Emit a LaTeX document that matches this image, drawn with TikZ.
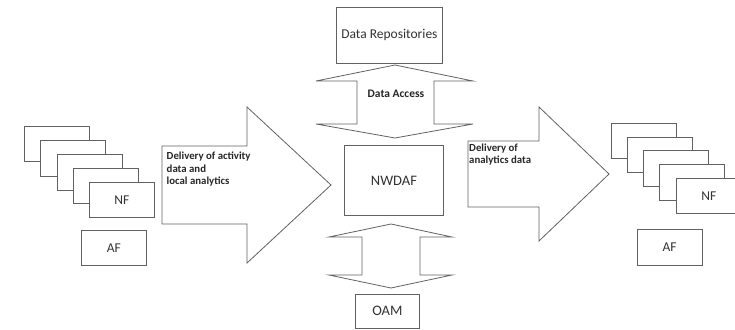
\documentclass[tikz,border=0pt]{standalone}
\usepackage{fontspec}
\setmainfont{Carlito}
\begin{document}
\begin{tikzpicture}[x=1pt,y=-1pt,
  edge/.style={draw=black!62, line width=0.8pt, line join=miter},
  fbox/.style={edge, fill=white, minimum width=65pt, minimum height=35.5pt,
    inner sep=0pt, anchor=north west, text=black!80,
    font=\fontsize{13.5}{15}\selectfont},
  blabel/.style={inner sep=0pt, anchor=north west, align=left, text=black!85,
    font=\fontsize{10.8}{12.6}\selectfont\bfseries}]
\useasboundingbox (0,0) rectangle (735,329);

% Left stack of network functions
\node[fbox] (l1) at (24,125.7) {};
\node[fbox] (l2) at (40,140) {};
\node[fbox] (l3) at (57,154) {};
\node[fbox] (l4) at (73,167.7) {};
\node[fbox, minimum height=34.7pt] (lnf) at (89,182) {NF};
\node[fbox] (laf) at (81,229.7) {AF};

% Left arrow
\draw[edge] (162,146) -- (247,146) -- (247,107) -- (331,185)
  -- (247,263) -- (247,224) -- (162,224) -- cycle;
\node[blabel] (lt) at (166.5,152) {Delivery of activity\\data and\\local analytics};

% Data repositories and access arrow
\node[fbox, minimum width=106pt, minimum height=56pt] (repo) at (336,7) {Data Repositories};
\draw[edge] (395,65) -- (473,81) -- (434,81) -- (434,124) -- (473,124)
  -- (395,138) -- (316,124) -- (357,124) -- (357,81) -- (316,81) -- cycle;
\node[blabel, anchor=center, font=\fontsize{11.5}{13}\selectfont\bfseries] (acc) at (396,93.5) {Data Access};

% NWDAF
\node[fbox, minimum width=99pt, minimum height=70pt, font=\fontsize{14.5}{16}\selectfont] (nwdaf) at (344,145) {NWDAF};

% OAM and its access arrow
\draw[edge] (391,224) -- (452,237) -- (420,237) -- (420,275) -- (452,275)
  -- (391,288) -- (329,275) -- (362,275) -- (362,237) -- (329,237) -- cycle;
\node[fbox, minimum width=64pt, minimum height=33.5pt, font=\fontsize{14.5}{16}\selectfont] (oam) at (355,294) {OAM};

% Right arrow
\draw[edge] (468,141) -- (539,141) -- (539,107) -- (609,174)
  -- (539,241) -- (539,207) -- (468,207) -- cycle;
\node[blabel] (rt) at (469,143.5) {Delivery of\\analytics data};

% Right stack of network functions
\node[fbox] (r1) at (610.7,122.7) {};
\node[fbox] (r2) at (626.7,136.7) {};
\node[fbox] (r3) at (643.3,150) {};
\node[fbox] (r4) at (659.3,164) {};
\node[fbox] (rnf) at (676,177.7) {NF};
\node[fbox] (raf) at (636.7,229.3) {AF};
\end{tikzpicture}
\end{document}
